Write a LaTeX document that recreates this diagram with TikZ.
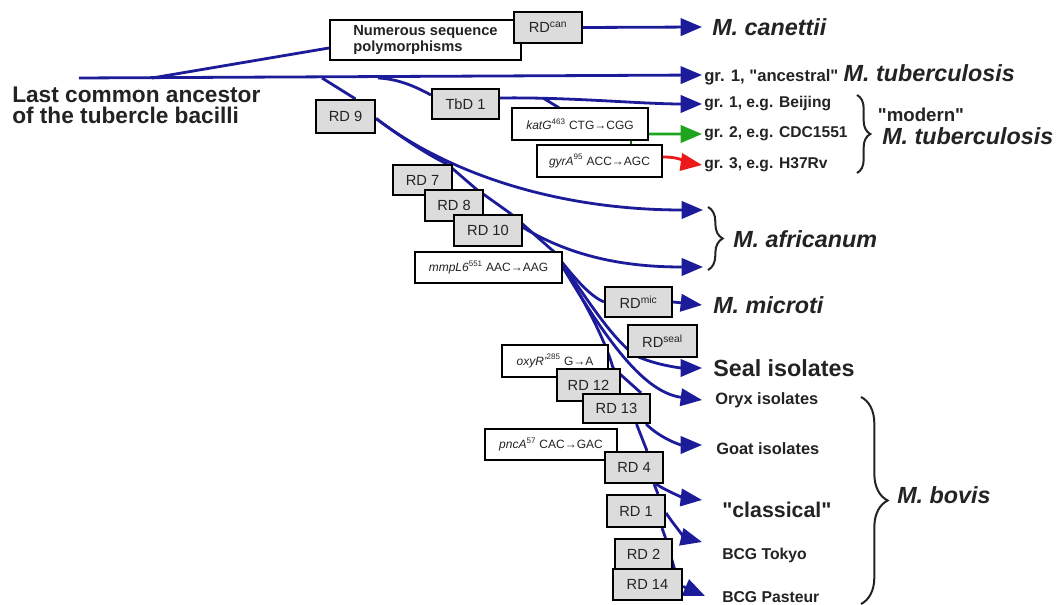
\documentclass[tikz,border=0pt]{standalone}
\usepackage{fontspec}
\setmainfont{Liberation Sans}
\usetikzlibrary{arrows.meta,calc,decorations.pathreplacing}
\pgfdeclarelayer{bg}
\pgfsetlayers{bg,main}
\definecolor{lineblue}{RGB}{28,28,155}
\definecolor{boxgray}{RGB}{220,220,220}
\definecolor{txtgray}{RGB}{35,35,35}
\definecolor{lgreen}{RGB}{30,165,30}
\definecolor{dgreen}{RGB}{40,90,40}
\definecolor{lred}{RGB}{235,25,25}
\newcommand{\myfs}[2]{\fontsize{#1}{#2}\selectfont}
\newcommand{\dq}{\textquotedbl}
\tikzset{
  bx/.style 2 args={draw=black, line width=1.6pt, inner sep=0pt, minimum width=#1*0.75pt, minimum height=#2*0.75pt, text=txtgray, font=\myfs{11}{12}},
  gbox/.style 2 args={bx={#1}{#2}, fill=boxgray},
  wbox/.style 2 args={bx={#1}{#2}, fill=white, font=\myfs{9}{10}},
  lab/.style={inner sep=0pt, anchor=west, text=txtgray, font=\bfseries\myfs{11.7}{13}},
  spec/.style={lab, font=\bfseries\itshape\myfs{17.5}{19}},
  lin/.style={draw=lineblue, line width=2.1pt},
  arrw/.style={-{Triangle[length=16pt,width=13pt]}},
  brc/.style={draw=txtgray, line width=1.5pt, decorate, decoration={brace, amplitude=#1}},
}
\begin{document}
\begin{tikzpicture}[x=0.75pt,y=-0.75pt]
\useasboundingbox (0,0) rectangle (1057,605);
% boxes
\node[wbox={191}{40}, align=left, font=\bfseries\myfs{11}{11.5}] (num) at (425.5,40) {Numerous sequence\\polymorphisms};
\node[gbox={68}{31}] (rdcan) at (548,27.5) {RD\textsuperscript{can}};
\node[gbox={67}{30}] (tbd) at (465.5,104) {TbD 1};
\node[gbox={59}{33}] (rd9) at (345.5,116.5) {RD 9};
\node[wbox={136}{32}] (katg) at (580,124) {\textit{katG}\textsuperscript{463} CTG→CGG};
\node[wbox={125}{32}] (gyra) at (599.5,161) {\textit{gyrA}\textsuperscript{95} ACC→AGC};
\node[gbox={59}{30}] (rd7) at (422.5,180) {RD 7};
\node[gbox={58}{31}] (rd8) at (454,205.5) {RD 8};
\node[gbox={68}{31}] (rd10) at (488,230.5) {RD 10};
\node[wbox={147}{31}] (mmpl) at (488.5,267.5) {\textit{mmpL6}\textsuperscript{551} AAC→AAG};
\node[gbox={67}{30}] (rdmic) at (638.5,302) {RD\textsuperscript{mic}};
\node[gbox={69}{32}] (rdseal) at (662.5,341) {RD\textsuperscript{seal}};
\node[wbox={106}{32}] (oxyr) at (555,361) {\textit{oxyR'}\textsuperscript{285} G→A};
\node[gbox={63}{32}] (rd12) at (588.5,385) {RD 12};
\node[gbox={67}{29}] (rd13) at (616.5,408.5) {RD 13};
\node[wbox={132}{31}] (pnca) at (551,444.5) {\textit{pncA}\textsuperscript{57} CAC→GAC};
\node[gbox={58}{31}] (rd4) at (634,467.5) {RD 4};
\node[gbox={58}{32}] (rd1) at (636,511) {RD 1};
\node[gbox={57}{30}] (rd2) at (643.5,554) {RD 2};
\node[gbox={69}{31}] (rd14) at (647.5,584.5) {RD 14};
% labels
\node[lab, align=left, font=\bfseries\myfs{17}{16}] (lca) at (12,105.5) {Last common ancestor\\of the tubercle bacilli};
\node[spec] (canet) at (712,27) {M. canettii};
\node[lab, font=\bfseries] (ancl) at (704,75) {{\myfs{12.5}{14}gr. 1, \dq ancestral\dq}\hspace{4pt}{\itshape\myfs{17.5}{19}M. tuberculosis}};
\node[lab] (beij) at (704,104) {gr. 1, e.g. Beijing};
\node[lab] (cdc) at (704,134) {gr. 2, e.g. CDC1551};
\node[lab] (h37) at (704,165) {gr. 3, e.g. H37Rv};
\node[lab, anchor=center, font=\bfseries\myfs{14}{15}] (modern) at (921,115) {\dq modern\dq};
\node[spec] (mtub) at (882,136) {M. tuberculosis};
\node[spec] (afr) at (733,239) {M. africanum};
\node[spec] (micro) at (713,305) {M. microti};
\node[lab, font=\bfseries\myfs{17.5}{19}] (seal) at (713,368) {Seal isolates};
\node[lab, font=\bfseries\myfs{12.3}{14}] (oryx) at (715,400) {Oryx isolates};
\node[lab, font=\bfseries\myfs{12.3}{14}] (goat) at (716,449) {Goat isolates};
\node[lab, font=\bfseries\myfs{16}{18}] (class) at (722,510) {\dq classical\dq};
\node[lab, font=\bfseries\myfs{11.8}{13}] (tokyo) at (722,555) {BCG Tokyo};
\node[lab, font=\bfseries\myfs{11.8}{13}] (pasteur) at (722,597) {BCG Pasteur};
\node[spec] (bovis) at (897,495) {M. bovis};
% braces
\draw[brc=10pt] (857,95) -- (857,173);
\draw[brc=11pt] (708,207) -- (708,270);
\draw[brc=20pt] (861,397) -- (861,604);
% connectors
\begin{pgfonlayer}{bg}
\fill[white] (0,0) rectangle (1057,605);
\coordinate (root) at (79,78);
\coordinate (b1) at (152,78);
\coordinate (b3) at (322,78);
\coordinate (b2) at (378,78);
\coordinate (kb) at (543,98);
\coordinate (afr1) at (703,210);
\coordinate (afr2) at (703,267);
\draw[lin,arrw] (root) -- ($(ancl.west)+(-2,0)$);
\draw[lin] (b1) -- ($(num.west)+(0,8)$);
\draw[lin,arrw] (rdcan.east) -- ($(canet.west)+(-10,0)$);
\draw[lin] (b2) .. controls (400,79) and (418,88) .. ($(tbd.west)+(0,-9)$);
\draw[lin,arrw] ($(tbd.east)+(0,-6)$) .. controls (570,97) and (640,104) .. ($(beij.west)+(-2,0)$);
\draw[lin] (kb) -- ($(katg.north west)+(50,2)$);
\draw[draw=lgreen, line width=2.1pt, arrw] ($(katg.south east)+(0,-7)$) -- ($(cdc.west)+(-2,0)$);
\draw[draw=dgreen, line width=2pt] ($(katg.south west)+(120,0)$) -- ($(gyra.north west)+(95,0)$);
\draw[draw=lred, line width=2.1pt, arrw] ($(gyra.east)+(0,-4)$) .. controls (682,157) and (688,163) .. ($(h37.west)+(-2,0)$);
\draw[lin] (b3) -- ($(rd9.north)+(10,0)$);
\draw[lin,arrw] ($(rd9.east)+(0,2)$) .. controls (450,175) and (560,210) .. (afr1);
\draw[lin] ($(rd9.east)+(0,2)$) .. controls (405,140) and (430,156) .. ($(rd7.north east)+(-6,0)$);
\draw[lin] ($(rd7.north east)+(-6,0)$) -- ($(rd8.north east)+(-8,0)$);
\draw[lin] ($(rd8.north east)+(-8,0)$) -- ($(rd10.north east)+(-12,0)$);
\draw[lin,arrw] ($(rd10.east)+(0,-3)$) .. controls (580,262) and (640,267) .. (afr2);
\coordinate (mtop) at ($(mmpl.north east)+(-10,0)$);
\draw[lin] ($(rd10.north east)+(-12,0)$) -- (mtop);
\draw[lin] (mtop) .. controls (572,275) and (588,295) .. (rdmic.west);
\draw[lin,arrw] (rdmic.east) -- ($(micro.west)+(-11,0)$);
\draw[lin] (mtop) .. controls (585,295) and (605,330) .. ($(rdseal.south west)+(6,-4)$);
\draw[lin,arrw] ($(rdseal.south west)+(6,-4)$) .. controls (650,364) and (680,368) .. ($(seal.west)+(-11,0)$);
\draw[lin,arrw] (mtop) .. controls (600,330) and (640,392) .. ($(oryx.west)+(-13,0)$);
\draw[lin] (mtop) .. controls (585,300) and (605,340) .. ($(rd12.north east)+(-8,0)$);
\draw[lin] ($(rd12.north east)+(-8,0)$) -- ($(rd13.north east)+(-10,0)$);
\draw[lin,arrw] ($(rd13.south east)+(-5,0)$) .. controls (660,438) and (680,445) .. ($(goat.west)+(-14,-4)$);
\draw[lin] ($(rd13.south)+(20,0)$) -- ($(rd4.north)+(13,0)$);
\draw[lin,arrw] ($(rd4.south east)+(-8,0)$) .. controls (668,492) and (685,498) .. ($(class.west)+(-20,-10)$);
\draw[lin] ($(rd4.south)+(20,0)$) -- ($(rd1.north)+(22,0)$);
\draw[lin,arrw] ($(rd1.east)+(0,2)$) .. controls (676,528) and (686,538) .. ($(tokyo.west)+(-20,-13)$);
\draw[lin] ($(rd1.south)+(26,0)$) -- ($(rd2.north)+(22,0)$);
\draw[lin] ($(rd2.north)+(22,0)$) -- ($(rd14.east)+(-4,0)$);
\draw[lin,arrw] ($(rd14.east)+(0,2)$) -- ($(pasteur.west)+(-17,-1)$);
\end{pgfonlayer}
\end{tikzpicture}
\end{document}
